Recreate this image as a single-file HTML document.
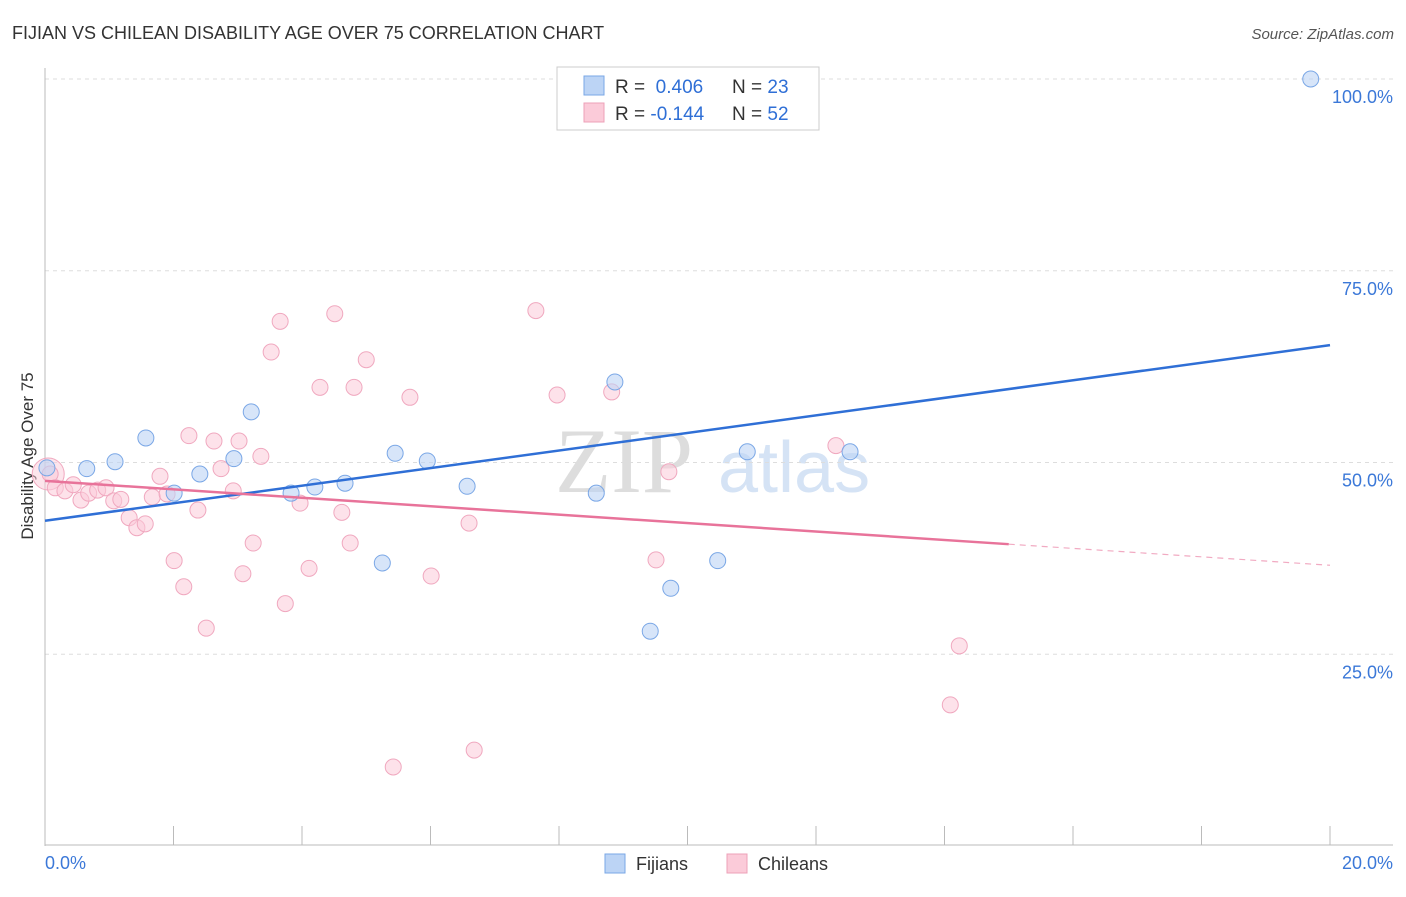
<!DOCTYPE html>
<html><head><meta charset="utf-8"><style>
body{margin:0;background:#fff;font-family:"Liberation Sans",sans-serif}
</style></head><body>
<svg id="c" width="1406" height="892" xmlns="http://www.w3.org/2000/svg" font-family="Liberation Sans, sans-serif">
<text x="12" y="39" font-size="18" fill="#333">FIJIAN VS CHILEAN DISABILITY AGE OVER 75 CORRELATION CHART</text>
<text x="1394" y="39" font-size="15" fill="#555" font-style="italic" text-anchor="end">Source: ZipAtlas.com</text>
<text x="0" y="0" transform="translate(33,456) rotate(-90)" font-size="17" fill="#333" text-anchor="middle">Disability Age Over 75</text>
<text x="555" y="492" font-size="92" fill="#ddd" font-family="Liberation Serif, serif">ZIP</text>
<text x="718" y="492" font-size="72" fill="#d5e3f5">atlas</text>
<g id="grid"></g><g id="marks"></g>
<rect x="557" y="67" width="262" height="63" fill="#fff" stroke="#ccc"/>
<rect x="584" y="76" width="20" height="19" fill="#bcd4f5" stroke="#7aa7e6"/>
<rect x="584" y="103" width="20" height="19" fill="#fbcbd9" stroke="#eea0b8"/>
<text x="615" y="93" font-size="19" fill="#333">R = <tspan fill="#2f6fd6">&#160;0.406</tspan><tspan x="732">N = </tspan><tspan fill="#2f6fd6">23</tspan></text>
<text x="615" y="120" font-size="19" fill="#333">R = <tspan fill="#2f6fd6">-0.144</tspan><tspan x="732">N = </tspan><tspan fill="#2f6fd6">52</tspan></text>
<rect x="605" y="854" width="20" height="19" fill="#bcd4f5" stroke="#7aa7e6"/>
<text x="636" y="870" font-size="18" fill="#333">Fijians</text>
<rect x="727" y="854" width="20" height="19" fill="#fbcbd9" stroke="#eea0b8"/>
<text x="758" y="870" font-size="18" fill="#333">Chileans</text>
</svg>
<script>
const fijX=[0.03,0.65,1.09,1.57,2.01,2.41,2.94,3.21,3.83,4.20,4.67,5.25,5.45,5.95,6.57,8.58,8.87,9.42,9.74,10.47,10.93,12.53,19.70];
const fijY=[49.3,49.2,50.1,53.2,46.0,48.5,50.5,56.6,46.0,46.8,47.3,36.9,51.2,50.2,46.9,46.0,60.5,28.0,33.6,37.2,51.4,51.4,100];
const chiX=[0.08,0.16,0.31,0.44,0.56,0.68,0.82,0.95,1.07,1.18,1.31,1.43,1.56,1.67,1.79,1.90,2.01,2.16,2.24,2.38,2.51,2.63,2.74,2.93,3.02,3.08,3.24,3.36,3.52,3.66,3.74,3.97,4.11,4.28,4.51,4.62,4.75,4.81,5.00,5.42,5.68,6.01,6.60,6.68,7.64,7.97,8.82,9.51,9.71,12.31,14.09,14.23];
const chiY=[48.5,46.7,46.3,47.1,45.1,46.0,46.4,46.7,45.0,45.2,42.8,41.5,42.0,45.5,48.2,45.9,37.2,33.8,53.5,43.8,28.4,52.8,49.2,46.3,52.8,35.5,39.5,50.8,64.4,68.4,31.6,44.7,36.2,59.8,69.4,43.5,39.5,59.8,63.4,10.3,58.5,35.2,42.1,12.5,69.8,58.8,59.2,37.3,48.8,52.2,18.4,26.1];
const fijTrend=[42.4,65.3]; // at x=0 and x=20
const chiTrend=[47.6,36.6];
const yTicks=[25,50,75,100];
const yTickLabels=["25.0%","50.0%","75.0%","100.0%"];
const xTicks=[0,2,4,6,8,10,12,14,16,18,20];
const NS="http://www.w3.org/2000/svg";
const X=v=>45+v/20*1285, Y=v=>846-v/100*767;
function mk(p,t,a){const e=document.createElementNS(NS,t);for(const k in a)e.setAttribute(k,a[k]);p.appendChild(e);return e;}
const g=document.getElementById('grid'),m=document.getElementById('marks');
yTicks.forEach((t,i)=>{
 let l=mk(g,'line',{x1:45,x2:1393,y1:Y(t),y2:Y(t),stroke:'#ddd','stroke-dasharray':'4,4'});
 
 
 let tx=mk(g,'text',{x:1393,y:Y(t)+24,'font-size':18,fill:'#3b78d8','text-anchor':'end'});tx.textContent=yTickLabels[i];
 
 
});
let ax=mk(g,'line',{x1:45,x2:45,y1:68,y2:846,stroke:'#bbb'});


let bx=mk(g,'line',{x1:45,x2:1393,y1:845,y2:845,stroke:'#bbb'});


xTicks.forEach(t=>{let l=mk(g,'line',{x1:X(t),x2:X(t),y1:826,y2:845,stroke:'#bbb'});
 
 });
let x0=mk(g,'text',{x:45,y:869,'font-size':18,fill:'#3b78d8'});x0.textContent='0.0%';


let x1=mk(g,'text',{x:1393,y:869,'font-size':18,fill:'#3b78d8','text-anchor':'end'});x1.textContent='20.0%';


let big=mk(m,'circle',{cx:X(0.05),cy:Y(48.5),r:16,fill:'rgba(251,203,217,0.5)',stroke:'#f0a8bf'});


chiX.forEach((v,i)=>{let c=mk(m,'circle',{cx:X(v),cy:Y(chiY[i]),r:8,fill:'rgba(251,203,217,0.55)',stroke:'#f0a8bf'});
 
 });
fijX.forEach((v,i)=>{let c=mk(m,'circle',{cx:X(v),cy:Y(fijY[i]),r:8,fill:'rgba(188,212,245,0.6)',stroke:'#7aa7e6'});
 
 });
let ft=mk(m,'line',{x1:X(0),y1:Y(fijTrend[0]),x2:X(20),y2:Y(fijTrend[1]),stroke:'#2f6fd6','stroke-width':2.5});


const cAt=x=>chiTrend[0]+(chiTrend[1]-chiTrend[0])*x/20;
let ct=mk(m,'line',{x1:X(0),y1:Y(cAt(0)),x2:X(15),y2:Y(cAt(15)),stroke:'#e8739a','stroke-width':2.5});


let cd=mk(m,'line',{x1:X(15),y1:Y(cAt(15)),x2:X(20),y2:Y(cAt(20)),stroke:'#e8739a','stroke-width':1.2,'stroke-dasharray':'6,5',opacity:0.6});


</script>
</body></html>
